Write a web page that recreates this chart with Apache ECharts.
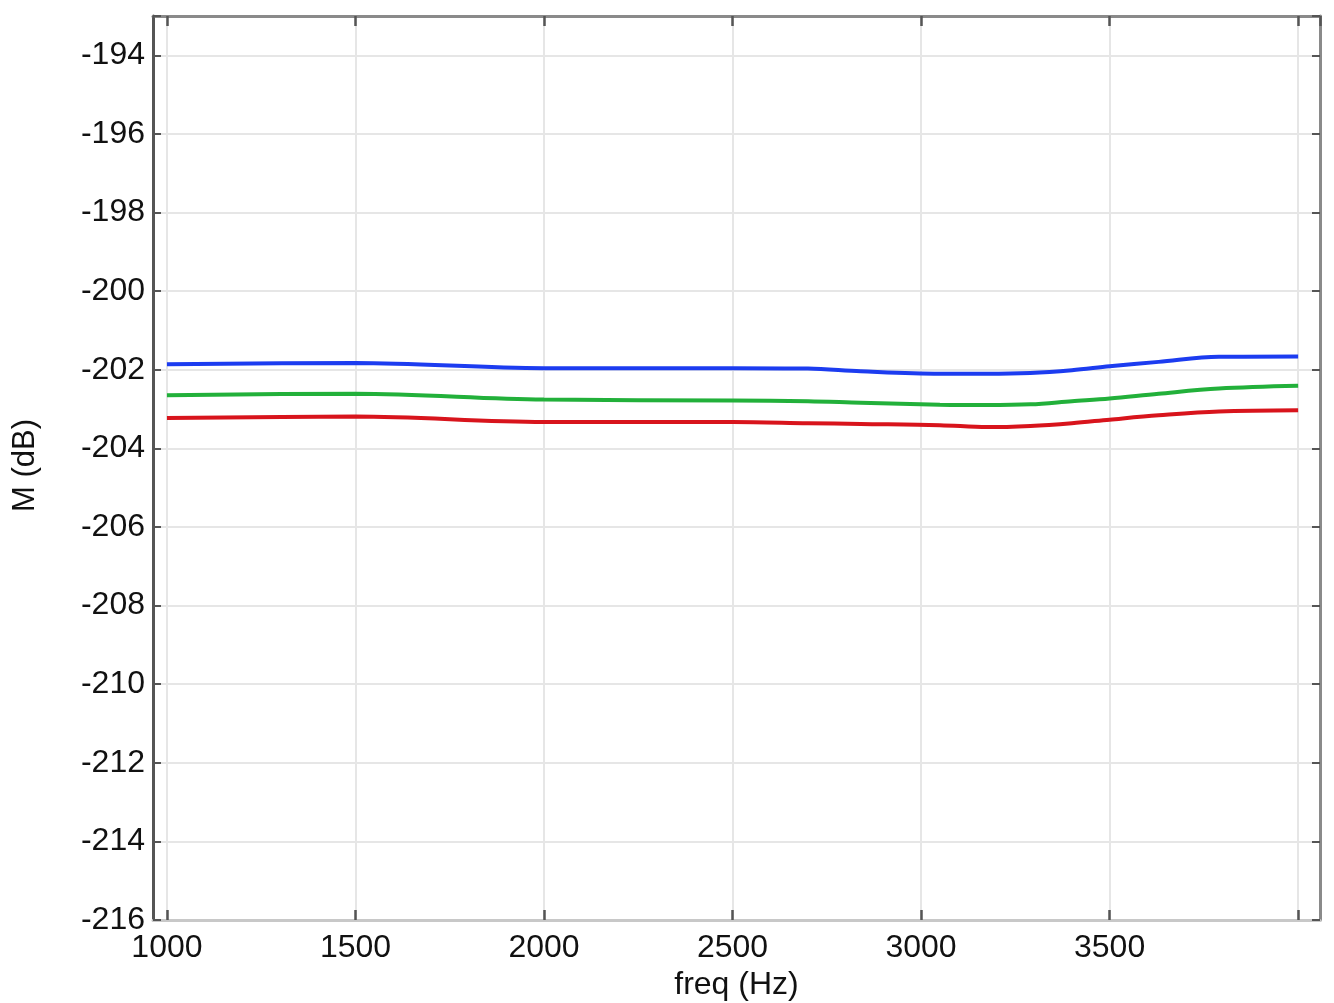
<!DOCTYPE html>
<html>
<head>
<meta charset="utf-8">
<script src="https://cdn.jsdelivr.net/npm/echarts@6/dist/echarts.min.js"></script>
<style>html,body{margin:0;padding:0;background:#fff}#c{width:1334px;height:1003px}</style>
</head>
<body>
<div id="c"></div>
<script>
const freq = [1000, 1500, 2000, 2500, 2700, 2840, 3050, 3175, 3290, 3400, 3500, 3630, 3790, 4000];
const blue = [-201.86, -201.83, -201.96, -201.96, -201.97, -202.04, -202.10, -202.10, -202.08, -202.01, -201.91, -201.80, -201.67, -201.66];
const green = [-202.65, -202.61, -202.76, -202.78, -202.80, -202.84, -202.89, -202.90, -202.88, -202.80, -202.73, -202.61, -202.48, -202.41];
const red = [-203.23, -203.19, -203.33, -203.33, -203.36, -203.38, -203.41, -203.46, -203.43, -203.36, -203.27, -203.16, -203.06, -203.03];
const xLabels = [1000, 1500, 2000, 2500, 3000, 3500];
const yMin = -216, yMax = -193, yStep = 2;
const xMin = 963, xMax = 4058;

const pair = (ys) => freq.map((f, i) => [f, ys[i]]);
const font = 'Liberation Sans, Arial, sans-serif';
const chart = echarts.init(document.getElementById('c'));
const lineSeries = (name, ys, color) => ({
  name, type: 'line', data: pair(ys), smooth: 0.35, showSymbol: false,
  lineStyle: { color, width: 4 }, xAxisIndex: 0, yAxisIndex: 0
});
chart.setOption({
  animation: false,
  backgroundColor: '#fff',
  grid: { left: 153, right: 14, top: 16, bottom: 83, containLabel: false, outerBoundsMode: 'none' },
  xAxis: [{
    type: 'value', min: xMin, max: xMax, position: 'bottom',
    name: 'freq (Hz)', nameLocation: 'middle', nameGap: 44,
    nameTextStyle: { fontFamily: font, fontSize: 32, color: '#111' },
    axisLine: { show: true, onZero: false, lineStyle: { color: '#c8c8c8', width: 3 } },
    axisTick: { show: true, inside: true, length: 10, lineStyle: { color: '#555', width: 2.5 } },
    axisLabel: { fontFamily: font, fontSize: 32, color: '#111', margin: 12, showMinLabel: false, showMaxLabel: false,
      formatter: v => xLabels.includes(v) ? String(v) : '' },
    splitLine: { show: true, lineStyle: { color: '#e6e6e6', width: 2 } }
  }, {
    type: 'value', min: xMin, max: xMax, position: 'top',
    axisLine: { show: true, onZero: false, lineStyle: { color: '#8a8a8a', width: 3 } },
    axisTick: { show: true, inside: true, length: 10, lineStyle: { color: '#555', width: 2.5 } },
    axisLabel: { show: false }, splitLine: { show: false }
  }],
  yAxis: [{
    type: 'value', min: yMin, max: yMax, interval: yStep, position: 'left',
    axisLine: { show: true, onZero: false, lineStyle: { color: '#555', width: 3 } },
    axisTick: { show: true, inside: true, length: 8, lineStyle: { color: '#555', width: 2 } },
    axisLabel: { fontFamily: font, fontSize: 32, color: '#111', margin: 8,
      formatter: v => (v <= -194 ? String(v) : '') },
    splitLine: { show: true, lineStyle: { color: '#e6e6e6', width: 2 } }
  }, {
    type: 'value', min: yMin, max: yMax, interval: yStep, position: 'right',
    axisLine: { show: true, onZero: false, lineStyle: { color: '#8a8a8a', width: 3 } },
    axisTick: { show: true, inside: true, length: 8, lineStyle: { color: '#555', width: 2 } },
    axisLabel: { show: false }, splitLine: { show: false }
  }],
  graphic: [{
    type: 'text',
    style: { text: 'M (dB)', fontFamily: font, fontSize: 31, fill: '#111' },
    position: [10, 512], rotation: Math.PI / 2, origin: [0, 0]
  }],
  series: [
    lineSeries('blue', blue, '#1c3cf0'),
    lineSeries('green', green, '#22b03a'),
    lineSeries('red', red, '#d8141c')
  ]
});
</script>
</body>
</html>
